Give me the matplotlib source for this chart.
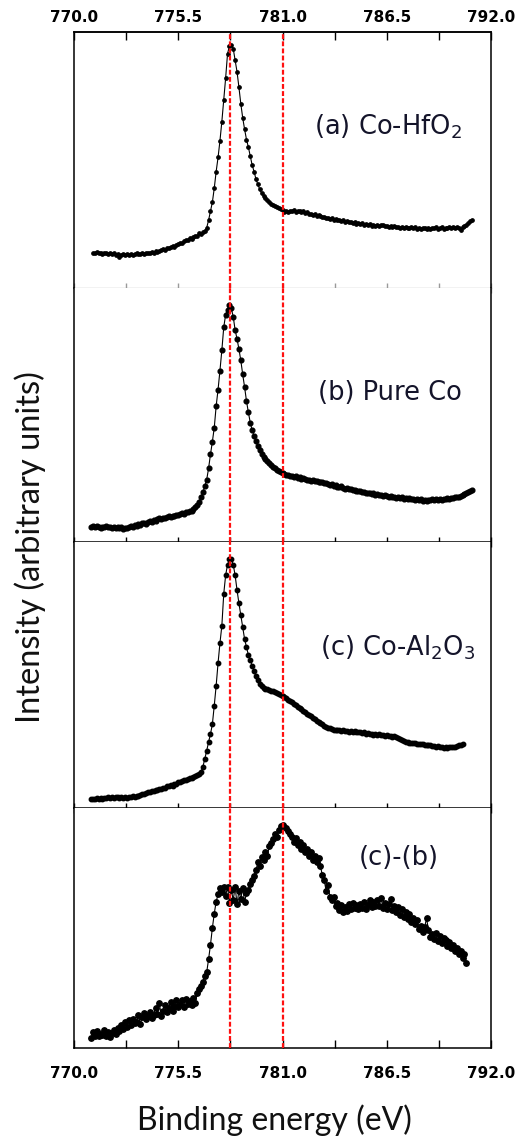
import numpy as np
import matplotlib.pyplot as plt

# Co 2p3/2 spectra, binding energy sampled every 0.1 eV (intensity in a.u.)
E_STEP = 0.1

E0_HFO2 = 771.0
co_hfo2 = [
    13.7, 13.5, 13.9, 13.6, 13.8, 13.4, 13.7, 13.5, 13.3, 13.6,
    13.2, 13.5, 12.9, 13.3, 12.3, 12.8, 13.1, 12.7, 13.2, 13.0,
    13.4, 12.9, 13.2, 13.5, 13.1, 13.3, 13.6, 13.2, 13.5, 13.8,
    13.6, 14.0, 13.8, 14.3, 14.1, 14.5, 14.8, 15.2, 14.9, 15.5,
    15.8, 16.0, 16.4, 16.2, 16.9, 17.3, 17.6, 17.4, 18.3, 18.6,
    18.9, 19.4, 19.1, 20.0, 20.5, 20.2, 21.3, 21.0, 21.8, 22.4,
    23.5, 26.5, 30.0, 33.5, 39.0, 45.5, 51.0, 57.5, 65.0, 73.5,
    82.0, 91.5, 94.5, 95.0, 93.5, 89.0, 84.5, 78.5, 72.0, 66.5,
    62.0, 58.0, 55.0, 51.5, 48.0, 45.5, 42.5, 40.5, 38.5, 37.0,
    36.0, 35.0, 34.2, 33.6, 33.0, 32.6, 32.1, 31.6, 31.2, 30.7,
    30.3, 29.8, 30.2, 29.6, 30.1, 29.9, 30.4, 29.7, 30.2, 29.9,
    29.6, 29.9, 29.3, 29.5, 28.9, 29.1, 28.6, 28.8, 28.2, 28.4,
    28.0, 27.6, 27.9, 27.3, 27.5, 27.0, 27.2, 26.7, 26.9, 26.4,
    26.6, 26.2, 26.4, 25.9, 26.1, 25.6, 25.8, 25.3, 25.6, 25.1,
    25.3, 24.9, 25.2, 24.7, 25.0, 24.6, 24.9, 24.4, 24.7, 24.3,
    24.6, 24.2, 24.5, 24.8, 24.1, 24.4, 23.9, 24.2, 23.8, 24.1,
    23.7, 24.0, 23.5, 23.8, 23.4, 23.9, 23.3, 23.6, 24.0, 23.4,
    23.7, 23.2, 23.5, 23.1, 23.6, 23.3, 23.0, 23.5, 23.2, 23.6,
    23.3, 23.7, 23.1, 23.5, 23.8, 23.2, 23.6, 23.3, 23.7, 23.4,
    23.8, 23.5, 23.9, 23.6, 22.8, 23.9, 24.2, 24.6, 25.3, 26.0,
    26.6,
]

E0_PURE = 770.9
pure_co = [
    6.0,
    6.3, 5.8, 6.2, 6.0, 5.7, 6.1, 5.9, 6.2, 5.8, 6.0,
    5.7, 6.0, 5.6, 5.9, 5.5, 5.8, 5.3, 5.6, 5.4, 5.9,
    6.2, 6.0, 6.6, 6.4, 7.0, 6.8, 7.3, 7.5, 7.2, 7.9,
    8.1, 7.8, 8.5, 8.3, 8.9, 9.3, 9.0, 9.6, 9.4, 9.9,
    10.1, 9.8, 10.4, 10.2, 10.7, 10.5, 11.0, 11.3, 11.1, 11.8,
    12.0, 12.4, 12.2, 12.9, 13.6, 14.5, 15.8, 17.6, 19.5, 22.0,
    24.5, 29.0, 34.5, 39.5, 45.0, 53.5, 60.0, 67.5, 75.5, 84.5,
    89.5, 91.5, 93.3, 92.0, 88.7, 83.5, 80.0, 76.0, 71.5, 66.0,
    61.0, 55.5, 51.0, 47.0, 44.0, 41.8, 39.6, 37.9, 36.2, 34.8,
    33.6, 32.6, 31.8, 31.0, 30.4, 29.6, 29.0, 28.4, 27.9, 27.5,
    27.0, 26.6, 26.2, 26.5, 25.9, 26.1, 25.5, 25.8, 25.2, 25.4,
    24.9, 25.1, 24.7, 24.3, 24.6, 24.1, 24.3, 23.9, 24.2, 23.7,
    23.5, 23.8, 23.2, 23.4, 22.8, 22.5, 22.7, 22.1, 22.3, 21.8,
    21.6, 21.9, 21.3, 21.0, 21.2, 20.7, 20.9, 20.4, 20.6, 20.1,
    19.9, 20.2, 19.6, 19.8, 19.4, 19.1, 19.3, 18.9, 19.1, 18.6,
    18.8, 18.4, 18.6, 18.2, 18.5, 18.0, 17.8, 18.1, 17.6, 17.9,
    17.5, 17.8, 17.3, 17.6, 17.1, 17.4, 16.9, 17.2, 16.8, 17.1,
    16.6, 16.9, 16.4, 16.8, 16.2, 16.6, 16.3, 16.7, 16.4, 16.8,
    16.5, 16.9, 16.6, 17.0, 16.7, 17.1, 16.8, 17.2, 17.0, 17.4,
    17.3, 17.6, 17.9, 17.7, 18.2, 18.5, 18.8, 19.2, 19.6, 19.9,
    20.3,
]

E0_AL2O3 = 770.9
co_al2o3 = [
    3.3,
    3.5, 3.2, 3.6, 3.4, 3.8, 3.5, 3.9, 3.7, 4.1, 3.8,
    4.2, 3.9, 4.3, 4.0, 3.7, 4.1, 3.8, 4.2, 3.9, 4.3,
    4.0, 4.4, 4.2, 4.6, 4.5, 5.0, 5.3, 5.2, 5.8, 6.1,
    6.0, 6.4, 6.3, 6.8, 6.7, 7.1, 7.3, 7.7, 7.6, 8.1,
    8.2, 8.5, 8.4, 8.9, 9.1, 9.6, 9.8, 10.2, 10.4, 10.7,
    10.9, 11.3, 11.1, 11.7, 12.0, 12.3, 12.8, 13.6, 15.5, 18.5,
    21.5, 24.8, 27.8, 31.5, 38.5, 46.0, 54.5, 62.0, 68.5, 80.5,
    87.5, 91.5, 93.5, 93.5, 91.5, 87.5, 82.0, 77.0, 72.5, 68.0,
    63.5, 60.5, 57.5, 55.5, 53.5, 51.5, 49.5, 48.0, 46.5, 45.8,
    45.3, 44.8, 44.6, 44.3, 44.0, 43.8, 43.5, 43.3, 42.9, 42.6,
    42.2, 41.7, 41.2, 40.7, 40.2, 39.7, 39.1, 38.6, 38.1, 37.6,
    37.1, 36.6, 36.0, 35.5, 35.0, 34.5, 34.0, 33.3, 32.8, 32.3,
    31.8, 31.4, 31.0, 30.6, 30.2, 30.0, 29.7, 29.5, 29.3, 29.2,
    29.3, 29.0, 29.2, 28.9, 29.1, 28.7, 28.9, 28.6, 28.8, 28.5,
    28.4, 28.6, 28.2, 28.4, 28.0, 28.2, 27.8, 28.0, 27.6, 27.8,
    27.5, 27.7, 27.3, 27.5, 27.1, 27.3, 26.9, 27.1, 26.8, 26.9,
    26.6, 26.4, 26.0, 25.6, 25.2, 24.9, 24.7, 24.5, 24.6, 24.3,
    24.4, 24.1, 24.2, 23.9, 24.0, 23.7, 23.8, 23.5, 23.6, 23.3,
    23.4, 23.1, 23.2, 22.9, 23.0, 22.7, 22.9, 22.6, 22.8, 22.9,
    23.1, 23.0, 23.3, 23.5, 23.7, 23.9,
]

E0_DIFF = 770.9
diff_cb = [
    4.0,
    6.5, 5.0, 7.2, 4.8, 6.0, 5.5, 7.4, 5.2, 6.8, 4.6,
    6.2, 7.6, 5.9, 8.4, 6.9, 9.5, 7.8, 10.8, 8.6, 11.5,
    9.4, 12.2, 10.6, 11.0, 13.6, 10.2, 12.8, 14.5, 11.9, 13.2,
    15.2, 12.6, 13.8, 16.8, 14.0, 18.9, 13.5, 15.6, 17.8, 14.8,
    16.5, 19.2, 15.5, 17.6, 20.0, 16.9, 18.4, 19.8, 17.2, 20.6,
    18.5, 19.6, 17.8, 20.8, 18.6, 22.9, 24.6, 26.0, 27.5, 30.0,
    31.5, 37.0, 43.0, 50.0, 56.0, 61.0, 64.0, 66.5, 65.0, 67.0,
    63.5, 67.0, 60.5, 66.0, 61.5, 67.2, 60.0, 65.5, 62.0, 66.8,
    60.8, 64.5, 65.8, 68.5, 70.2, 71.5, 74.0, 77.5, 76.0, 79.5,
    78.5, 81.5, 80.0, 84.0, 85.5, 87.0, 89.0, 88.0, 91.0, 92.5,
    93.0, 92.0, 91.5, 90.5, 89.0, 88.0, 86.0, 87.5, 84.5, 85.8,
    83.0, 84.5, 81.5, 83.0, 80.0, 81.8, 78.5, 80.0, 77.5, 79.0,
    76.0, 72.0, 70.0, 65.5, 68.0, 63.0, 61.5, 62.8, 59.0, 60.5,
    57.5, 59.5, 56.5, 58.8, 57.2, 59.8, 57.8, 60.5, 58.2, 59.5,
    57.8, 60.0, 58.5, 61.0, 58.0, 59.6, 61.5, 58.6, 60.8, 59.0,
    61.8, 59.2, 62.5, 58.5, 60.5, 57.8, 59.9, 62.2, 57.5, 59.0,
    56.8, 58.9, 55.5, 57.8, 54.6, 56.5, 53.8, 55.8, 52.5, 54.0,
    51.5, 53.2, 49.5, 51.0, 48.2, 50.5, 54.0, 49.2, 46.2, 47.5,
    45.5, 47.8, 44.5, 46.8, 43.8, 46.0, 44.8, 42.5, 44.0, 41.5,
    43.0, 40.5, 41.8, 39.2, 40.6, 37.5, 39.0, 35.5,
]

XTICKS = [770.0, 772.75, 775.5, 778.25, 781.0, 783.75, 786.5, 789.25, 792.0]
XTICK_LABELS = ['770.0', '', '775.5', '', '781.0', '', '786.5', '', '792.0']
REF_LINES = [778.25, 781.0]

PANEL_LABELS = ['(a) Co-HfO$_2$', '(b) Pure Co', '(c) Co-Al$_2$O$_3$', '(c)-(b)']
LABEL_POS = [(0.753, 0.629), (0.758, 0.587), (0.775, 0.602), (0.779, 0.792)]

series = [(E0_HFO2, co_hfo2), (E0_PURE, pure_co), (E0_AL2O3, co_al2o3), (E0_DIFF, diff_cb)]
marker_sizes = [2.4, 3.4, 3.2, 3.9]

# panel frames in figure pixels (top, bottom) for a 528 x 1143 canvas
W, H = 528, 1143
X_LEFT, X_RIGHT = 74, 491
frames = [(32, 288), (288, 542), (542, 808), (808, 1048)]

fig = plt.figure(figsize=(W / 100, H / 100), dpi=100)
tick_font = dict(family='DejaVu Sans', weight='bold', size=11)

axes = []
for i, (top, bot) in enumerate(frames):
    ax = fig.add_axes([X_LEFT / W, 1 - bot / H, (X_RIGHT - X_LEFT) / W, (bot - top) / H])
    e0, vals = series[i]
    vals = np.array(vals)
    energy = np.round(e0 + E_STEP * np.arange(len(vals)), 2)
    ax.plot(energy, vals, '-', color='black', lw=0.8, marker='o',
            ms=marker_sizes[i], mec='black', mfc='black', zorder=2)
    for xv in REF_LINES:
        ax.axvline(xv, color='#ff1010', lw=1.6, ls=(0, (2.2, 1.0)), zorder=3)

    ax.set_xlim(770.0, 792.0)
    ax.set_ylim(0, 100)
    ax.set_yticks([])
    ax.set_xticks(XTICKS)

    for side in ['left', 'right', 'top', 'bottom']:
        ax.spines[side].set_linewidth(1.1)
        ax.spines[side].set_color('black')
    if i > 0:
        ax.spines['top'].set_visible(False)

    if i == 0:
        # light grey divider under the first panel
        ax.spines['bottom'].set_color('#9a9a9a')
        ax.spines['bottom'].set_linewidth(0.9)
        ax.tick_params(axis='x', top=False, bottom=True, labeltop=False, labelbottom=False,
                       direction='inout', length=7, width=1.0, color='#9a9a9a')
    elif i == len(frames) - 1:
        ax.tick_params(axis='x', bottom=True, labelbottom=True, direction='in',
                       length=6, width=1.0, pad=13)
        ax.set_xticklabels(XTICK_LABELS, **tick_font)
    else:
        ax.tick_params(axis='x', bottom=True, labelbottom=False, direction='inout',
                       length=7, width=1.0)

    ax.text(LABEL_POS[i][0], LABEL_POS[i][1], PANEL_LABELS[i], transform=ax.transAxes,
            ha='center', va='center', fontsize=18.5, family='DejaVu Sans', color='#14142a')
    axes.append(ax)

# top axis of the stack with its own labels
top_ax = axes[0].secondary_xaxis('top')
top_ax.set_xticks(XTICKS)
top_ax.set_xticklabels(XTICK_LABELS, **tick_font)
top_ax.tick_params(direction='in', length=6, width=1.0, pad=5, color='black')
top_ax.spines['top'].set_linewidth(1.1)

fig.text(30 / W, 1 - 547 / H, 'Intensity (arbitrary units)', rotation=90,
         ha='center', va='center', fontsize=23.5, family='Lato', color='#111111')
fig.text(274 / W, 1 - 1120 / H, 'Binding energy (eV)',
         ha='center', va='center', fontsize=23, family='Lato', color='#111111')

fig.savefig('out.png', dpi=100)
